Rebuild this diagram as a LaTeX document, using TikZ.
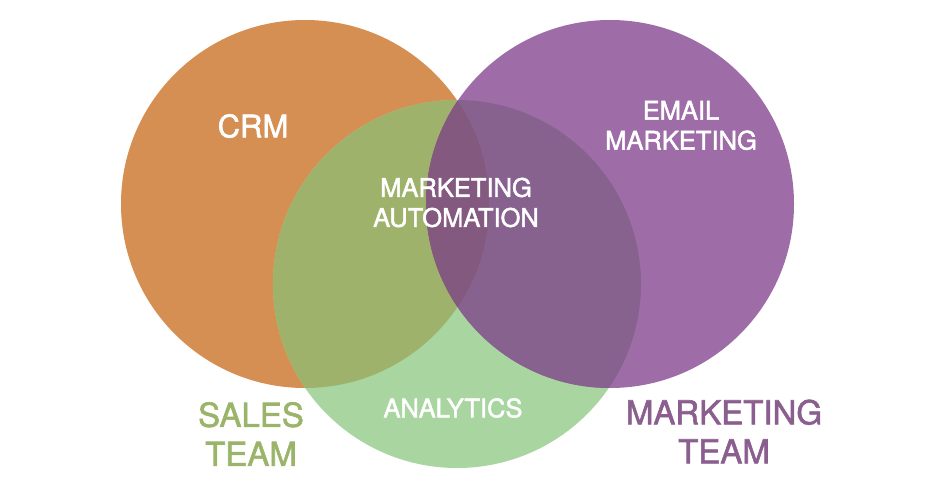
\documentclass[tikz,border=0pt]{standalone}
\usepackage{fontspec}
\setmainfont{TeX Gyre Heros}
\newfontfamily\vennfont[FakeBold=1.8]{TeX Gyre Heros}
\definecolor{crmc}{HTML}{D68F52}
\definecolor{emailc}{HTML}{9E6DA8}
\definecolor{anac}{HTML}{A8D5A0}
\definecolor{crmana}{HTML}{9FB26B}
\definecolor{emailana}{HTML}{88628E}
\definecolor{crmemail}{HTML}{935079}
\definecolor{allthree}{HTML}{84597F}
\definecolor{salesc}{HTML}{9AB46A}
\definecolor{mktc}{HTML}{8A5E8E}

\begin{document}
\begin{tikzpicture}[x=1bp,y=-1bp,
    inlbl/.style={text=white,font=\vennfont\fontsize{25.5bp}{30bp}\selectfont,align=center,inner sep=0pt},
    teamlbl/.style={font=\vennfont\fontsize{33bp}{39bp}\selectfont,align=center,inner sep=0pt}]
    \useasboundingbox (0,0) rectangle (940,500);
    \coordinate (crm) at (305,204);
    \coordinate (email) at (610,204);
    \coordinate (ana) at (457,284);
    \fill[crmc](crm)circle(184);
    \fill[anac](ana)circle(184);
    \fill[emailc](email)circle(184);
    \begin{scope}\clip(crm)circle(184);\fill[crmana](ana)circle(184);\end{scope}
    \begin{scope}\clip(email)circle(184);\fill[emailana](ana)circle(184);\end{scope}
    \begin{scope}\clip(crm)circle(184);\fill[crmemail](email)circle(184);\end{scope}
    \begin{scope}\clip(crm)circle(184);\clip(email)circle(184);\fill[allthree](ana)circle(184);\end{scope}
    \node[inlbl,font=\vennfont\fontsize{31bp}{36bp}\selectfont](crmlbl)at(253,126){CRM};
    \node[inlbl](emaillbl)at(681,125.5){EMAIL\\MARKETING};
    \node[inlbl](autolbl)at(456,202.5){MARKETING\\AUTOMATION};
    \node[inlbl](analbl)at(453,408){ANALYTICS};
    \node[teamlbl,text=salesc](saleslbl)at(251,434){SALES\\TEAM};
    \node[teamlbl,text=mktc](mktlbl)at(724,431.5){MARKETING\\TEAM};
\end{tikzpicture}
\end{document}
